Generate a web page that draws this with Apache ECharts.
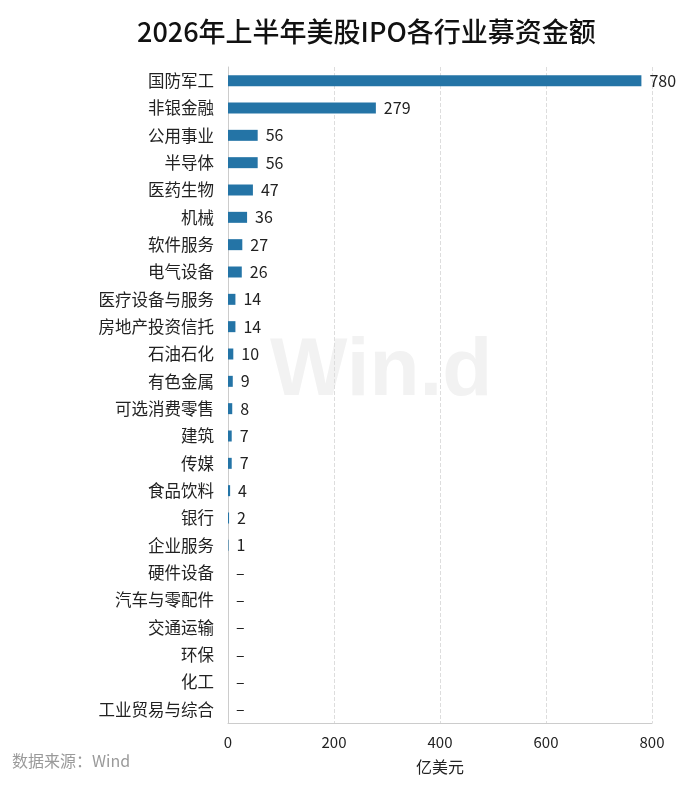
<!DOCTYPE html>
<html><head><meta charset="utf-8">
<script src="https://cdn.jsdelivr.net/npm/echarts@6/dist/echarts.min.js"></script>
<style>html,body{margin:0;padding:0;background:#fff}#c{width:700px;height:785px}</style>
</head><body><div id="c"></div>
<script>
const categories = ["国防军工","非银金融","公用事业","半导体","医药生物","机械","软件服务","电气设备","医疗设备与服务","房地产投资信托","石油石化","有色金属","可选消费零售","建筑","传媒","食品饮料","银行","企业服务","硬件设备","汽车与零配件","交通运输","环保","化工","工业贸易与综合"];
const values = [780,279,56,56,47,36,27,26,14,14,10,9,8,7,7,4,2,1,0,0,0,0,0,0];
const xTicks = [0,200,400,600,800];

const chart = echarts.init(document.getElementById('c'));
const font = '"Noto Sans CJK SC", "Noto Sans", sans-serif';
chart.setOption({
  backgroundColor: '#fff',
  title: {
    text: '2026年上半年美股IPO各行业募资金额',
    left: 132, top: 13,
    textStyle: {fontFamily: font, fontSize: 27, fontWeight: 500, color: '#111'}
  },
  graphic: [
    {type: 'text', left: 270, top: 331, z: -10, silent: true,
     style: {text: 'Win.d', fontFamily: 'Arial, "Liberation Sans", sans-serif', fontSize: 82, fontWeight: 'bold', fill: '#f2f2f2'}},
    {type: 'text', left: 12, top: 753,
     style: {text: '数据来源：Wind', fontFamily: font, fontSize: 16, fill: '#9a9a9a'}}
  ],
  grid: {left: 228, right: 48, top: 67, bottom: 62},
  xAxis: {
    type: 'value', min: 0, max: 800, interval: 200,
    name: '亿美元', nameLocation: 'middle', nameGap: 36,
    nameTextStyle: {fontFamily: font, fontSize: 16, color: '#222'},
    axisLine: {show: true, lineStyle: {color: '#ccc'}},
    axisTick: {show: false},
    axisLabel: {fontFamily: font, fontSize: 15, color: '#222', margin: 12,
      formatter: v => xTicks.includes(v) ? String(v) : ''},
    splitLine: {show: true, lineStyle: {color: '#ddd', type: 'dashed'}}
  },
  yAxis: {
    type: 'category', data: categories, inverse: true,
    axisLine: {show: true, lineStyle: {color: '#ccc'}},
    axisTick: {show: false},
    axisLabel: {fontFamily: font, fontSize: 16.5, color: '#222', margin: 14}
  },
  series: [{
    type: 'bar', data: values, barWidth: 11,
    itemStyle: {color: '#2474a6'},
    label: {show: true, position: 'right', distance: 8,
      fontFamily: font, fontSize: 16, color: '#222',
      formatter: p => p.value === 0 ? '–' : String(p.value)},
    z: 2
  }]
});
</script></body></html>
